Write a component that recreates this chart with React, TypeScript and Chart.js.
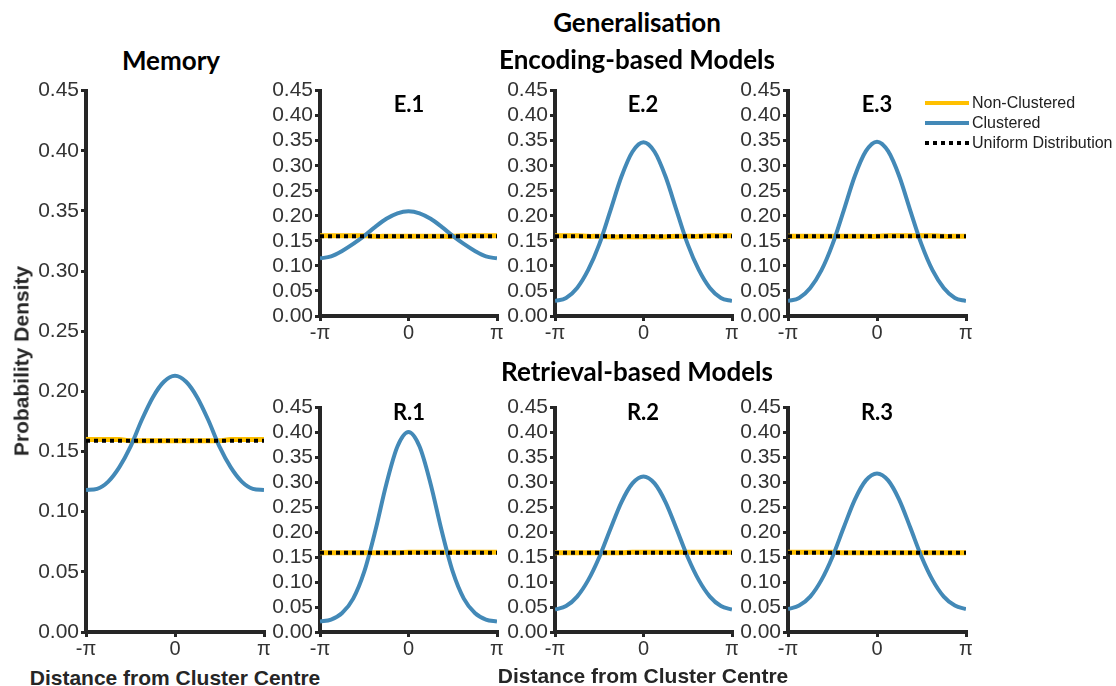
import React, { useEffect, useRef } from "react";
import { Chart, registerables } from "chart.js";

Chart.register(...registerables);

const PI = Math.PI;

// x positions: multiples of pi/8 from -pi to pi
const X_STEPS = [-8, -7, -6, -5, -4, -3, -2, -1, 0, 1, 2, 3, 4, 5, 6, 7, 8];
const X_TICKS = [-PI, 0, PI];
const X_TICK_LABELS = ["-\u03c0", "0", "\u03c0"];
const Y_MIN = 0;
const Y_MAX = 0.45;
const Y_STEP = 0.05;

// Clustered (blue) curves
const MEMORY_CLUSTERED = [0.118, 0.119, 0.125, 0.137, 0.154, 0.176, 0.195, 0.208, 0.213, 0.208, 0.195, 0.176, 0.154, 0.137, 0.125, 0.119, 0.118];
const E1_CLUSTERED = [0.115, 0.119, 0.130, 0.144, 0.160, 0.178, 0.194, 0.205, 0.209, 0.205, 0.194, 0.178, 0.160, 0.144, 0.130, 0.119, 0.115];
const E2_CLUSTERED = [0.030, 0.036, 0.056, 0.092, 0.143, 0.210, 0.278, 0.328, 0.347, 0.328, 0.278, 0.210, 0.143, 0.092, 0.056, 0.036, 0.030];
const E3_CLUSTERED = [0.030, 0.036, 0.056, 0.091, 0.143, 0.210, 0.279, 0.329, 0.348, 0.329, 0.279, 0.210, 0.143, 0.091, 0.056, 0.036, 0.030];
const R1_CLUSTERED = [0.021, 0.025, 0.038, 0.067, 0.121, 0.203, 0.297, 0.372, 0.401, 0.372, 0.297, 0.203, 0.121, 0.067, 0.038, 0.025, 0.021];
const R2_CLUSTERED = [0.045, 0.052, 0.071, 0.104, 0.150, 0.206, 0.260, 0.298, 0.312, 0.298, 0.260, 0.206, 0.150, 0.104, 0.071, 0.052, 0.045];
const R3_CLUSTERED = [0.046, 0.053, 0.071, 0.104, 0.151, 0.209, 0.265, 0.304, 0.318, 0.304, 0.265, 0.209, 0.151, 0.104, 0.071, 0.053, 0.046];

// Non-clustered (yellow) curves
const MEMORY_NONCLUSTERED = [0.160, 0.160, 0.160, 0.160, 0.159, 0.159, 0.159, 0.159, 0.159, 0.159, 0.159, 0.159, 0.159, 0.160, 0.160, 0.160, 0.160];
const E1_NONCLUSTERED = [0.160, 0.160, 0.160, 0.160, 0.160, 0.159, 0.159, 0.159, 0.159, 0.159, 0.159, 0.159, 0.159, 0.160, 0.160, 0.160, 0.160];
const E2_NONCLUSTERED = [0.160, 0.160, 0.160, 0.159, 0.159, 0.158, 0.158, 0.158, 0.158, 0.158, 0.158, 0.159, 0.159, 0.159, 0.160, 0.160, 0.160];
const E3_NONCLUSTERED = [0.159, 0.159, 0.159, 0.159, 0.159, 0.159, 0.159, 0.159, 0.159, 0.160, 0.160, 0.160, 0.160, 0.160, 0.159, 0.159, 0.159];
const R1_NONCLUSTERED = [0.159, 0.159, 0.159, 0.159, 0.159, 0.159, 0.159, 0.159, 0.160, 0.160, 0.160, 0.160, 0.160, 0.160, 0.160, 0.160, 0.160];
const R2_NONCLUSTERED = [0.159, 0.159, 0.159, 0.159, 0.159, 0.159, 0.159, 0.160, 0.160, 0.160, 0.160, 0.160, 0.160, 0.160, 0.160, 0.160, 0.160];
const R3_NONCLUSTERED = [0.160, 0.160, 0.160, 0.160, 0.160, 0.159, 0.159, 0.159, 0.159, 0.159, 0.159, 0.159, 0.159, 0.159, 0.159, 0.159, 0.159];

// Uniform distribution (1 / 2pi)
const UNIFORM = [0.159, 0.159, 0.159, 0.159, 0.159, 0.159, 0.159, 0.159, 0.159, 0.159, 0.159, 0.159, 0.159, 0.159, 0.159, 0.159, 0.159];

const LEGEND_LABELS = ["Non-Clustered", "Clustered", "Uniform Distribution"];

const BLUE = "#4389b7";
const YELLOW = "#ffc000";
const AXIS = "#262626";
const TICK_TEXT = "#333333";
const SANS = "'Liberation Sans', Arial, sans-serif";
const TITLE_FONT = "Lato, 'Open Sans', sans-serif";

const Y_AXIS_W = 60;
const X_AXIS_H = 30;
const PAD_T = 12;
const PAD_R = 12;

type PanelProps = {
  left: number;
  top: number;
  right: number;
  bottom: number;
  clustered: number[];
  nonClustered: number[];
};

function Panel({ left, top, right, bottom, clustered, nonClustered }: PanelProps) {
  const ref = useRef<HTMLCanvasElement>(null);
  const cw = right - left + Y_AXIS_W + PAD_R;
  const ch = bottom - top + PAD_T + X_AXIS_H;

  useEffect(() => {
    const canvas = ref.current;
    if (!canvas) return;
    const pts = (arr: number[]) => arr.map((y, i) => ({ x: (X_STEPS[i] * PI) / 8, y }));
    const chart = new Chart(canvas, {
      type: "line",
      data: {
        datasets: [
          {
            label: LEGEND_LABELS[2],
            data: pts(UNIFORM),
            borderColor: "#000000",
            borderWidth: 4,
            borderDash: [4, 4],
            pointRadius: 0,
            tension: 0,
          },
          {
            label: LEGEND_LABELS[1],
            data: pts(clustered),
            borderColor: BLUE,
            borderWidth: 4,
            pointRadius: 0,
            cubicInterpolationMode: "monotone",
          },
          {
            label: LEGEND_LABELS[0],
            data: pts(nonClustered),
            borderColor: YELLOW,
            borderWidth: 5,
            pointRadius: 0,
            tension: 0.3,
          },
        ],
      },
      options: {
        animation: false,
        responsive: false,
        maintainAspectRatio: false,
        events: [],
        layout: { padding: { top: PAD_T, right: PAD_R, left: 0, bottom: 0 } },
        plugins: { legend: { display: false }, tooltip: { enabled: false }, title: { display: false } },
        scales: {
          x: {
            type: "linear",
            min: -PI,
            max: PI,
            afterBuildTicks: (s: any) => {
              s.ticks = X_TICKS.map((v) => ({ value: v }));
            },
            afterFit: (s: any) => {
              s.height = X_AXIS_H;
            },
            ticks: {
              autoSkip: false,
              maxRotation: 0,
              padding: 0,
              color: TICK_TEXT,
              font: { family: SANS, size: 20 },
              callback: (_v: any, i: number) => X_TICK_LABELS[i],
            },
            grid: { drawOnChartArea: false, drawTicks: true, tickLength: 5, lineWidth: 3, color: AXIS },
            border: { display: true, color: AXIS, width: 4 },
          },
          y: {
            min: Y_MIN,
            max: Y_MAX,
            afterFit: (s: any) => {
              s.width = Y_AXIS_W;
            },
            ticks: {
              stepSize: Y_STEP,
              autoSkip: false,
              padding: 2,
              color: TICK_TEXT,
              font: { family: SANS, size: 21 },
              callback: (v: any) => Number(v).toFixed(2),
            },
            grid: { drawOnChartArea: false, drawTicks: true, tickLength: 5, lineWidth: 3, color: AXIS },
            border: { display: true, color: AXIS, width: 4 },
          },
        },
      },
    } as any);
    return () => chart.destroy();
  }, []);

  return (
    <canvas
      ref={ref}
      width={cw}
      height={ch}
      style={{ position: "absolute", left: left - Y_AXIS_W, top: top - PAD_T, width: cw, height: ch }}
    />
  );
}

function Label({ text, x, y, style }: { text: string; x: number; y: number; style?: React.CSSProperties }) {
  return (
    <div
      style={{
        position: "absolute",
        left: x,
        top: y,
        transform: "translate(-50%, -50%)",
        whiteSpace: "nowrap",
        lineHeight: 1,
        ...style,
      }}
    >
      {text}
    </div>
  );
}

const titleStyle: React.CSSProperties = { fontFamily: TITLE_FONT, fontWeight: 700, fontSize: 26, color: "#000" };
const panelTitleStyle: React.CSSProperties = { fontFamily: TITLE_FONT, fontWeight: 700, fontSize: 22, color: "#000" };
const axisTitleStyle: React.CSSProperties = { fontFamily: SANS, fontWeight: 700, fontSize: 21, color: AXIS };

export default function App() {
  const E_TOP = 88, E_BOTTOM = 316, R_TOP = 405, R_BOTTOM = 632;
  const C1 = [320, 497], C2 = [555, 732], C3 = [788, 966];
  const legendRow = (i: number, y: number) => {
    const sample =
      i === 0
        ? { background: YELLOW, height: 4 }
        : i === 1
        ? { background: BLUE, height: 4 }
        : { background: "repeating-linear-gradient(90deg, #000 0 4px, transparent 4px 8px)", height: 4 };
    return (
      <div key={i}>
        <div style={{ position: "absolute", left: 925, top: y - 2, width: 44, ...sample }} />
        <div
          style={{
            position: "absolute",
            left: 972,
            top: y,
            transform: "translateY(-50%)",
            fontFamily: SANS,
            fontSize: 16,
            lineHeight: 1,
            color: "#222",
            whiteSpace: "nowrap",
          }}
        >
          {LEGEND_LABELS[i]}
        </div>
      </div>
    );
  };

  return (
    <div style={{ position: "fixed", left: 0, top: 0, width: 1116, height: 686, background: "#fff", overflow: "hidden" }}>
      <Panel left={86} top={88} right={264} bottom={632} clustered={MEMORY_CLUSTERED} nonClustered={MEMORY_NONCLUSTERED} />
      <Panel left={C1[0]} top={E_TOP} right={C1[1]} bottom={E_BOTTOM} clustered={E1_CLUSTERED} nonClustered={E1_NONCLUSTERED} />
      <Panel left={C2[0]} top={E_TOP} right={C2[1]} bottom={E_BOTTOM} clustered={E2_CLUSTERED} nonClustered={E2_NONCLUSTERED} />
      <Panel left={C3[0]} top={E_TOP} right={C3[1]} bottom={E_BOTTOM} clustered={E3_CLUSTERED} nonClustered={E3_NONCLUSTERED} />
      <Panel left={C1[0]} top={R_TOP} right={C1[1]} bottom={R_BOTTOM} clustered={R1_CLUSTERED} nonClustered={R1_NONCLUSTERED} />
      <Panel left={C2[0]} top={R_TOP} right={C2[1]} bottom={R_BOTTOM} clustered={R2_CLUSTERED} nonClustered={R2_NONCLUSTERED} />
      <Panel left={C3[0]} top={R_TOP} right={C3[1]} bottom={R_BOTTOM} clustered={R3_CLUSTERED} nonClustered={R3_NONCLUSTERED} />

      <Label text="Generalisation" x={637} y={22} style={titleStyle} />
      <Label text="Memory" x={171} y={60} style={titleStyle} />
      <Label text="Encoding-based Models" x={637} y={59} style={titleStyle} />
      <Label text="Retrieval-based Models" x={637} y={371} style={titleStyle} />

      <Label text="E.1" x={409} y={104} style={panelTitleStyle} />
      <Label text="E.2" x={643} y={104} style={panelTitleStyle} />
      <Label text="E.3" x={877} y={104} style={panelTitleStyle} />
      <Label text="R.1" x={409} y={412} style={panelTitleStyle} />
      <Label text="R.2" x={643} y={412} style={panelTitleStyle} />
      <Label text="R.3" x={877} y={412} style={panelTitleStyle} />

      <Label
        text="Probability Density"
        x={21}
        y={361}
        style={{ ...axisTitleStyle, transform: "translate(-50%, -50%) rotate(-90deg)" }}
      />
      <Label text="Distance from Cluster Centre" x={175} y={677} style={axisTitleStyle} />
      <Label text="Distance from Cluster Centre" x={643} y={675} style={axisTitleStyle} />

      {legendRow(0, 103)}
      {legendRow(1, 123)}
      {legendRow(2, 143)}
    </div>
  );
}
